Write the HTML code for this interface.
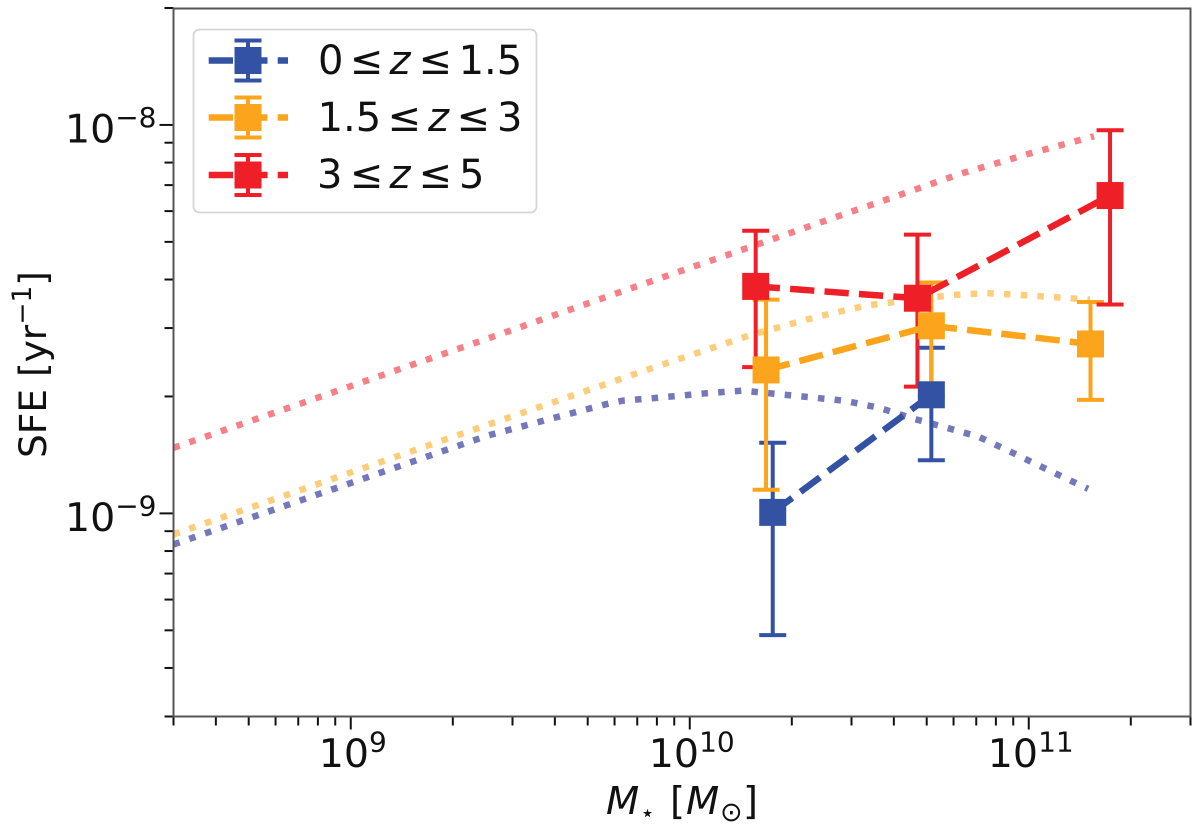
<!DOCTYPE html>
<html lang="en">
<head>
<meta charset="utf-8">
<title>SFE vs stellar mass</title>
<style>
html,body{margin:0;padding:0;background:#fff;width:1200px;height:834px;overflow:hidden}
svg{display:block}
text{font-family:"DejaVu Sans",sans-serif;fill:#111}
</style>
</head>
<body>
<svg id="chart" xmlns="http://www.w3.org/2000/svg" width="1200" height="834" viewBox="0 0 1200 834">
  <g id="curves"></g>
  <g id="errors"></g>
  <g id="series"></g>
  <g id="ticks"></g>
  <rect x="173.5" y="8.5" width="1017" height="708" fill="none" stroke="#555" stroke-width="2"/>

  <text transform="translate(46,458) rotate(-90)" font-size="37.5">SFE [yr<tspan dy="-15" font-size="26.5">−1</tspan><tspan dy="15">]</tspan></text>

  <g>
    <text x="606" y="814" font-size="38.5" font-style="italic">M</text>
    <text x="647.5" y="821" font-size="24" text-anchor="middle">⋆</text>
    <text x="670" y="814" font-size="38.5">[</text>
    <text x="686" y="814" font-size="38.5" font-style="italic">M</text>
    <text x="720" y="821" font-size="27">⊙</text>
    <text x="743" y="814" font-size="38.5">]</text>
  </g>

  <g id="legend">
    <rect x="193.5" y="29.5" width="343" height="183" rx="6" ry="6" fill="#fff" fill-opacity="0.9" stroke="#d6d6d6" stroke-width="1.8"/>
    <g id="legend-handles"></g>
    <g font-size="40">
      <text x="318" y="74">0</text><text x="349.8" y="74">≤</text><text x="389.5" y="74" font-style="italic">z</text><text x="418.5" y="74">≤</text><text x="458.6" y="74">1.5</text>
    </g>
    <g font-size="40">
      <text x="317.6" y="131">1.5</text><text x="387.5" y="131">≤</text><text x="428" y="131" font-style="italic">z</text><text x="456.5" y="131">≤</text><text x="497" y="131">3</text>
    </g>
    <g font-size="40">
      <text x="317" y="188">3</text><text x="349.8" y="188">≤</text><text x="389.5" y="188" font-style="italic">z</text><text x="418.5" y="188">≤</text><text x="459" y="188">5</text>
    </g>
  </g>
</svg>
<script>
// ---------- Data ----------
const xMajorTicks = [1e9, 1e10, 1e11];
const xMajorLabels = ['9', '10', '11'];
const yMajorTicks = [1e-9, 1e-8];
const yMajorLabels = ['−9', '−8'];
const minorMultipliers = [2, 3, 4, 5, 6, 7, 8, 9];
const xDecades = [1e8, 1e9, 1e10, 1e11];
const yDecades = [1e-10, 1e-9, 1e-8];
const xDomain = [3e8, 3e11];
const yDomain = [3e-10, 2e-8];

const blueMass = [1.757e10, 5.16e10];
const blueSfe = [1.006e-9, 2.02e-9];
const blueUpper = [1.52e-9, 2.67e-9];
const blueLower = [4.86e-10, 1.37e-9];

const orangeMass = [1.679e10, 5.16e10, 1.521e11];
const orangeSfe = [2.34e-9, 3.04e-9, 2.73e-9];
const orangeUpper = [3.55e-9, 3.93e-9, 3.50e-9];
const orangeLower = [1.15e-9, 2.01e-9, 1.96e-9];

const redMass = [1.565e10, 4.695e10, 1.737e11];
const redSfe = [3.84e-9, 3.58e-9, 6.58e-9];
const redUpper = [5.34e-9, 5.22e-9, 9.69e-9];
const redLower = [2.38e-9, 2.12e-9, 3.45e-9];

const blueCurveMass = [3.0e8, 2.54e9, 4.01e9, 5.61e9, 6.30e9, 7.98e9, 1.13e10, 1.431e10, 2.27e10, 2.87e10, 3.62e10, 4.52e10, 5.66e10, 7.12e10, 8.79e10, 1.085e11, 1.346e11, 1.496e11];
const blueCurveSfe = [8.32e-10, 1.587e-9, 1.765e-9, 1.906e-9, 1.949e-9, 1.983e-9, 2.04e-9, 2.07e-9, 1.99e-9, 1.949e-9, 1.87e-9, 1.758e-9, 1.666e-9, 1.575e-9, 1.444e-9, 1.321e-9, 1.208e-9, 1.157e-9];

const orangeCurveMass = [3.0e8, 2.53e9, 3.94e9, 7.67e9, 1.496e10, 2.35e10, 3.32e10, 5.96e10, 7.50e10, 9.47e10, 1.201e11, 1.516e11];
const orangeCurveSfe = [8.83e-10, 1.69e-9, 1.93e-9, 2.36e-9, 2.87e-9, 3.20e-9, 3.43e-9, 3.65e-9, 3.69e-9, 3.65e-9, 3.60e-9, 3.55e-9];

const redCurveMass = [3.0e8, 2.565e9, 6.16e9, 1.496e10, 2.317e10, 4.05e10, 6.30e10, 9.91e10, 1.558e11];
const redCurveSfe = [1.475e-9, 2.83e-9, 3.70e-9, 4.84e-9, 5.53e-9, 6.55e-9, 7.49e-9, 8.41e-9, 9.35e-9];

// ---------- Axis functions ----------
const plotLeft = 173.5, plotRight = 1190.5, plotBottom = 716.5, plotTop = 8;
function xScale(v) {
  return plotLeft + (Math.log10(v) - Math.log10(xDomain[0])) / (Math.log10(xDomain[1]) - Math.log10(xDomain[0])) * (plotRight - plotLeft);
}
function yScale(v) {
  return plotBottom - (Math.log10(v) - Math.log10(yDomain[0])) / (Math.log10(yDomain[1]) - Math.log10(yDomain[0])) * (plotBottom - plotTop);
}

const NS = 'http://www.w3.org/2000/svg';
function make(tag, parent, props) {
  const el = document.createElementNS(NS, tag);
  for (const k in props) el.setAttribute(k, props[k]);
  parent.appendChild(el);
  return el;
}
function pointsOf(xs, ys) {
  return xs.map(function (x, i) { return xScale(x).toFixed(2) + ',' + yScale(ys[i]).toFixed(2); }).join(' ');
}

const COLORS = { blue: '#3452a4', orange: '#fca51c', red: '#ee1f26' };
const FAINT = { blue: '#7478bb', orange: '#fecd7c', red: '#f77f87' };
const CAP = 13.5, MARK = 13.5;

// ---------- Model curves (dotted) ----------
const curvesG = document.getElementById('curves');
[['blue', blueCurveMass, blueCurveSfe], ['orange', orangeCurveMass, orangeCurveSfe], ['red', redCurveMass, redCurveSfe]].forEach(function (c) {
  const line = make('polyline', curvesG, { points: pointsOf(c[1], c[2]), fill: 'none', stroke: FAINT[c[0]], 'stroke-width': 6.5, 'stroke-dasharray': '6.5 10.2' });
  
  
});

// ---------- Error bars ----------
const errorsG = document.getElementById('errors');
[['blue', blueMass, blueUpper, blueLower], ['orange', orangeMass, orangeUpper, orangeLower], ['red', redMass, redUpper, redLower]].forEach(function (s) {
  s[1].forEach(function (m, i) {
    const x = xScale(m), yu = yScale(s[2][i]), yl = yScale(s[3][i]);
    const bar = make('line', errorsG, { x1: x, x2: x, y1: yu, y2: yl, stroke: COLORS[s[0]], 'stroke-width': 4 });
    
    
    const capTop = make('line', errorsG, { x1: x - CAP, x2: x + CAP, y1: yu, y2: yu, stroke: COLORS[s[0]], 'stroke-width': 4 });
    
    
    const capBottom = make('line', errorsG, { x1: x - CAP, x2: x + CAP, y1: yl, y2: yl, stroke: COLORS[s[0]], 'stroke-width': 4 });
    
    
  });
});

// ---------- Series lines + markers ----------
const seriesG = document.getElementById('series');
[['blue', blueMass, blueSfe], ['orange', orangeMass, orangeSfe], ['red', redMass, redSfe]].forEach(function (s) {
  const line = make('polyline', seriesG, { points: pointsOf(s[1], s[2]), fill: 'none', stroke: COLORS[s[0]], 'stroke-width': 6.5, 'stroke-dasharray': '24.3 10.2' });
  
  
});
[['blue', blueMass, blueSfe], ['orange', orangeMass, orangeSfe], ['red', redMass, redSfe]].forEach(function (s) {
  s[1].forEach(function (m, i) {
    const pt = make('rect', seriesG, { x: xScale(m) - MARK, y: yScale(s[2][i]) - MARK, width: MARK * 2, height: MARK * 2, fill: COLORS[s[0]] });
    
    
  });
});

// ---------- Ticks and tick labels ----------
const ticksG = document.getElementById('ticks');
xDecades.forEach(function (d) {
  minorMultipliers.forEach(function (k) {
    const v = d * k;
    if (v < xDomain[0] * 0.999 || v > xDomain[1] * 1.001) return;
    const t = make('line', ticksG, { x1: xScale(v), x2: xScale(v), y1: plotBottom, y2: plotBottom + 9, stroke: '#111', 'stroke-width': 2 });
    
    
  });
});
yDecades.forEach(function (d) {
  minorMultipliers.forEach(function (k) {
    const v = d * k;
    if (v < yDomain[0] * 0.999 || v > yDomain[1] * 1.001) return;
    const t = make('line', ticksG, { x1: plotLeft, x2: plotLeft - 9, y1: yScale(v), y2: yScale(v), stroke: '#111', 'stroke-width': 2 });
    
    
  });
});
xMajorTicks.forEach(function (v, i) {
  const t = make('line', ticksG, { x1: xScale(v), x2: xScale(v), y1: plotBottom, y2: plotBottom + 13, stroke: '#111', 'stroke-width': 2 });
  
  
  const lab = make('text', ticksG, { x: xScale(v) + 2, y: 767, 'font-size': 39.5, 'text-anchor': 'middle' });
  
  
  lab.appendChild(document.createTextNode('10'));
  const sup = make('tspan', lab, { dy: -15.5, 'font-size': 28 });
  sup.textContent = xMajorLabels[i];
});
yMajorTicks.forEach(function (v, i) {
  const t = make('line', ticksG, { x1: plotLeft, x2: plotLeft - 14, y1: yScale(v), y2: yScale(v), stroke: '#111', 'stroke-width': 2 });
  
  
  const lab = make('text', ticksG, { x: 156.5, y: yScale(v) + 17.5, 'font-size': 39.5, 'text-anchor': 'end' });
  
  
  lab.appendChild(document.createTextNode('10'));
  const sup = make('tspan', lab, { dy: -15.5, 'font-size': 28 });
  sup.textContent = yMajorLabels[i];
});

// ---------- Legend handles ----------
const legendG = document.getElementById('legend-handles');
[['blue', 60.5], ['orange', 117.5], ['red', 175]].forEach(function (h) {
  const c = COLORS[h[0]], cx = 248, cy = h[1];
  const dash = make('line', legendG, { x1: 208.7, x2: 288, y1: cy, y2: cy, stroke: c, 'stroke-width': 6.5, 'stroke-dasharray': '24.3 10.2' });
  
  
  const bar = make('line', legendG, { x1: cx, x2: cx, y1: cy - 20, y2: cy + 20, stroke: c, 'stroke-width': 4 });
  
  
  [-20, 20].forEach(function (o) {
    const cap = make('line', legendG, { x1: cx - CAP, x2: cx + CAP, y1: cy + o, y2: cy + o, stroke: c, 'stroke-width': 4 });
    
    
  });
  const mk = make('rect', legendG, { x: cx - MARK, y: cy - MARK, width: MARK * 2, height: MARK * 2, fill: c });
  
  
});
</script>
</body>
</html>
